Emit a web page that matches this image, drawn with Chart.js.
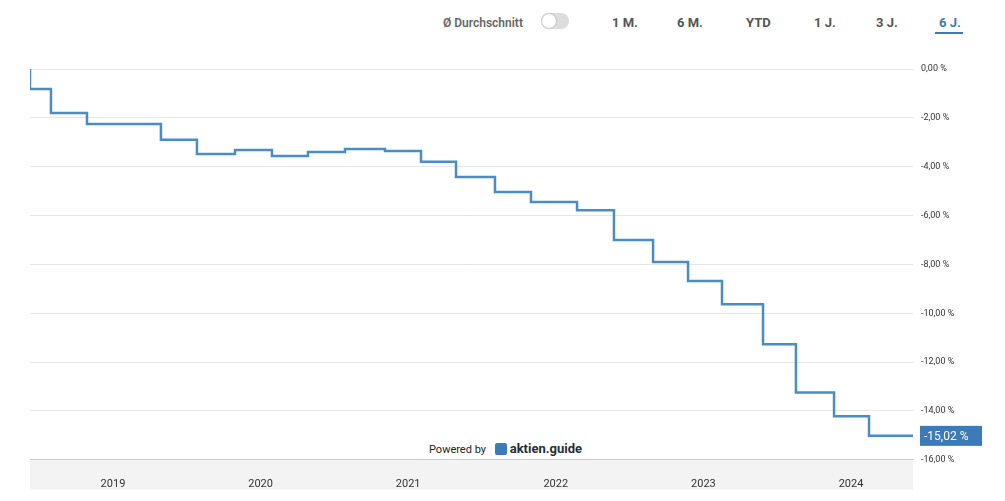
<!DOCTYPE html>
<html><head><meta charset="utf-8">
<script src="https://cdn.jsdelivr.net/npm/chart.js@4"></script>
<style>
body{margin:0;background:#fff;font-family:Roboto,sans-serif;}
#top{position:absolute;top:0;left:0;width:1005px;height:50px;}
.b{position:absolute;top:15px;font-size:13px;font-weight:bold;color:#555;}
#wrap{position:absolute;top:50px;left:0;width:1005px;height:451px;}
#pw{position:absolute;left:427px;top:441px;font-size:11px;color:#222;background:#fff;padding:0 2px}
#pw b{font-size:13px;color:#1f2d3d;}
#pw i{display:inline-block;width:12px;height:12px;background:#3d7ab8;border-radius:2px;vertical-align:-2px;margin:0 3px 0 6px}
</style></head><body>
<div id="top">
<span class="b" style="left:443px;font-weight:600;color:#666;font-size:12px;top:16px">Ø Durchschnitt</span>
<span style="position:absolute;left:541px;top:13px;width:28px;height:16px;border-radius:8px;background:#ddd"></span>
<span style="position:absolute;left:542px;top:14px;width:14px;height:14px;border-radius:7px;background:#fff;box-shadow:0 0 2px #999"></span>
<span class="b" style="left:612px">1 M.</span>
<span class="b" style="left:677px">6 M.</span>
<span class="b" style="left:746px">YTD</span>
<span class="b" style="left:814px">1 J.</span>
<span class="b" style="left:876px">3 J.</span>
<span class="b" style="left:939px;color:#3d7ab8">6 J.</span>
<span style="position:absolute;left:935px;top:32px;width:28px;height:2px;background:#3d7ab8"></span>
</div>
<div id="wrap"><canvas id="c" width="1005" height="451"></canvas></div>
<div id="pw">Powered by <i></i><b>aktien.guide</b></div>
<script>
const dates = [2018.438,2018.58,2018.824,2019.325,2019.569,2019.827,2020.077,2020.321,2020.572,2020.843,2021.087,2021.324,2021.588,2021.832,2022.144,2022.394,2022.659,2022.896,2023.126,2023.404,2023.627,2023.885,2024.122,2024.366,2024.42];
const values = [0,-0.82,-1.8,-2.25,-2.9,-3.48,-3.32,-3.56,-3.4,-3.28,-3.36,-3.8,-4.42,-5.04,-5.45,-5.78,-7.0,-7.9,-8.68,-9.63,-11.27,-13.24,-14.22,-15.02,-15.02];
const yearTicks = [2019,2020,2021,2022,2023,2024];
const fmt = v => v.toFixed(2).replace('.', ',') + ' %';

const lastLabel = {
  id:'lastLabel',
  afterDraw(ch){
    const m = ch.getDatasetMeta(0).data, p = m[m.length-1], c = ch.ctx;
    c.save(); c.fillStyle='#3d7ab8';
    c.fillRect(920, p.y-10, 62, 20);
    c.fillStyle='#fff'; c.font='12px Roboto'; c.textBaseline='middle';
    c.fillText(fmt(values[values.length-1]), 924, p.y+1);
    c.restore();
  }
};
const bg = {
  id:'bg',
  beforeDraw(ch){
    const a = ch.chartArea, c = ch.ctx;
    c.save(); c.fillStyle='#f3f3f3'; c.fillRect(a.left, a.bottom, a.right-a.left, 30); c.restore();
  }
};

new Chart(document.getElementById('c'), {
  type:'line',
  data:{datasets:[{data:dates.map((d,i)=>({x:d,y:values[i]})),borderColor:'#4a8cc4',borderWidth:2.5,pointRadius:0,stepped:'after',fill:false}]},
  options:{
    responsive:false, animation:false,
    layout:{padding:{top:19,left:30,bottom:0,right:0}},
    plugins:{legend:{display:false},tooltip:{enabled:false}},
    scales:{
      x:{type:'linear',min:2018.438,max:2024.42,
        afterBuildTicks(s){s.ticks=yearTicks.map(v=>({value:v}));},
        grid:{display:false},border:{color:'#ccc'},
        ticks:{callback:v=>String(v),color:'#333',font:{size:11,family:'Roboto'},padding:10}},
      y:{position:'right',min:-16,max:0,
        afterFit(s){s.width=92;},
        grid:{color:'#e6e6e6',drawTicks:false},border:{display:false},
        ticks:{stepSize:2,callback:fmt,color:'#333',font:{size:9,family:'Roboto'},padding:8}}
    }
  },
  plugins:[bg,lastLabel]
});
</script>
</body></html>
